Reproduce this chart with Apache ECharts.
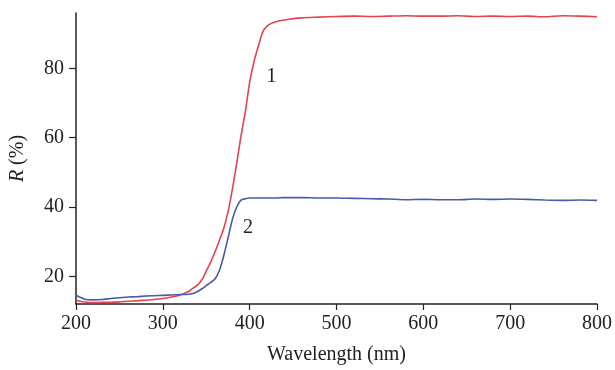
<!DOCTYPE html>
<html>
<head>
<meta charset="utf-8">
<script src="https://cdn.jsdelivr.net/npm/echarts@6/dist/echarts.min.js"></script>
<style>
  html, body { margin: 0; padding: 0; background: #fff; }
  #chart { width: 615px; height: 370px; }
</style>
</head>
<body>
<div id="chart"></div>
<script>
// wavelength (nm)
const wavelength = [
  200, 210, 220, 230, 240, 250, 260, 270, 280, 290, 300, 310, 320, 330,
  335, 340, 345, 350, 355, 360, 365, 370, 375, 380, 385, 390, 395, 400,
  405, 410, 415, 420, 425, 430,
  440, 460, 480, 500, 520, 540, 560, 580, 600, 620, 640, 660, 680, 700,
  720, 740, 760, 780, 800
]
// curve 1 (red)
const curve1 = [
  13.0, 12.6, 12.4, 12.5, 12.5, 12.6, 12.8, 12.9, 13.1, 13.3, 13.6, 14.0, 14.6, 15.7,
  16.6, 17.5, 19.0, 21.5, 24.0, 27.0, 30.3, 33.7, 38.5, 45.0, 52.5, 60.5, 67.5, 76.0,
  82.0, 86.5, 90.5, 92.2, 93.0, 93.5,
  94.0, 94.6, 94.8, 95.0, 95.1, 95.0, 95.1, 95.2, 95.1, 95.1, 95.2, 95.0, 95.1, 95.0,
  95.1, 94.9, 95.2, 95.1, 94.9
]
// curve 2 (blue)
const curve2 = [
  14.5, 13.4, 13.2, 13.3, 13.6, 13.8, 14.0, 14.1, 14.3, 14.4, 14.5, 14.6, 14.7, 14.8,
  15.0, 15.6, 16.4, 17.3, 18.2, 19.2, 21.6, 25.8, 31.0, 36.3, 40.0, 42.0, 42.4, 42.6,
  42.6, 42.6, 42.6, 42.6, 42.6, 42.6,
  42.7, 42.7, 42.6, 42.6, 42.5, 42.4, 42.3, 42.1, 42.2, 42.1, 42.1, 42.3, 42.2, 42.3,
  42.2, 42.0, 41.9, 42.0, 41.9
]
const xTicks = [200, 300, 400, 500, 600, 700, 800]
const yTicks = [20, 40, 60, 80]
// where the curve numbers sit, in data units
const label1 = [425, 77.6]
const label2 = [398, 34.0]

const font = '"Liberation Serif", "DejaVu Serif", serif'
const fs = 20

const toPairs = (xs, ys) => xs.map((x, i) => [x, ys[i]])

const chart = echarts.init(document.getElementById('chart'))

const tickStyle = { color: '#222', width: 1.2 }

chart.setOption({
  animation: false,
  textStyle: { fontFamily: font, color: '#222' },
  grid: { left: 76, right: 18, top: 13, bottom: 63 },
  xAxis: {
    type: 'value',
    min: 200,
    max: 800,
    interval: 100,
    name: 'Wavelength (nm)',
    nameLocation: 'middle',
    nameGap: 41,
    nameTextStyle: { fontSize: fs, fontFamily: font, color: '#222' },
    axisLine: { lineStyle: { color: '#222', width: 1.5 } },
    axisTick: { show: true, inside: false, length: 6, lineStyle: tickStyle },
    axisLabel: { fontSize: fs, fontFamily: font, color: '#222', margin: 10, customValues: xTicks },
    splitLine: { show: false }
  },
  yAxis: {
    type: 'value',
    min: 12,
    max: 96,
    name: '{i|R} (%)',
    nameLocation: 'middle',
    nameGap: 48,
    nameTextStyle: {
      fontSize: fs, fontFamily: font, color: '#222',
      rich: { i: { fontStyle: 'italic', fontSize: fs, fontFamily: font, color: '#222' } }
    },
    axisLine: { show: true, lineStyle: { color: '#222', width: 1.5 } },
    axisTick: { show: true, inside: false, length: 7, customValues: yTicks, lineStyle: tickStyle },
    axisLabel: { fontSize: fs, fontFamily: font, color: '#222', margin: 12, customValues: yTicks },
    splitLine: { show: false }
  },
  series: [
    {
      name: '1',
      type: 'line',
      data: toPairs(wavelength, curve1),
      showSymbol: false,
      smooth: 0.25,
      lineStyle: { color: '#e4434f', width: 1.6 },
      markPoint: {
        symbol: 'circle',
        symbolSize: 0,
        label: { show: true, formatter: '1', fontSize: fs, fontFamily: font, color: '#222', position: 'inside' },
        data: [{ coord: label1 }]
      }
    },
    {
      name: '2',
      type: 'line',
      data: toPairs(wavelength, curve2),
      showSymbol: false,
      smooth: 0.25,
      lineStyle: { color: '#4a5aa8', width: 1.6 },
      markPoint: {
        symbol: 'circle',
        symbolSize: 0,
        label: { show: true, formatter: '2', fontSize: fs, fontFamily: font, color: '#222', position: 'inside' },
        data: [{ coord: label2 }]
      }
    }
  ]
})
</script>
</body>
</html>
